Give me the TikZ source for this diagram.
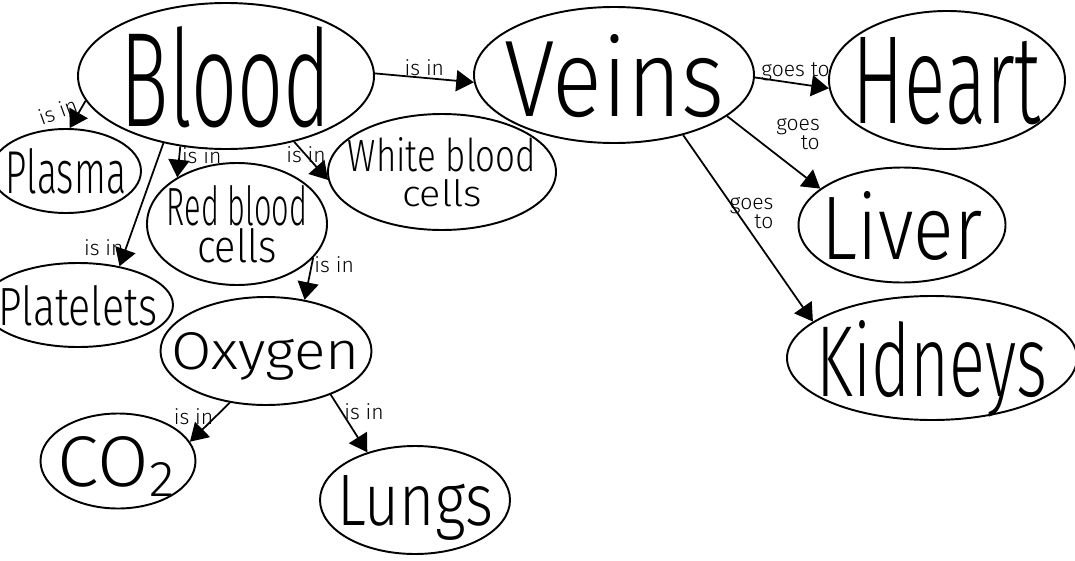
\documentclass[tikz,border=0pt]{standalone}
\usepackage{fontspec}
\IfFontExistsTF{Fira Sans Light}{\setmainfont{Fira Sans Light}}{\setmainfont{Fira Sans}}
\usepackage{graphicx}
\usepackage{tikz}
\usetikzlibrary{arrows.meta,shapes.geometric}

\newlength{\pxu}
\setlength{\pxu}{0.02cm}
\newcommand{\hand}[3]{\resizebox{#1\pxu}{#2\pxu}{#3}}

\begin{document}
\begin{tikzpicture}[
    x=0.02cm, y=-0.02cm,
    concept/.style={ellipse, draw=black, line width=1.1pt, inner xsep=-30\pxu, inner ysep=-10\pxu, text depth=0pt, align=center},
    link/.style={-{Triangle[length=10pt,width=12pt]}, line width=1pt},
    linklabel/.style={font=\fontsize{12}{11}\selectfont, inner sep=1pt, align=right}
]
\useasboundingbox (0,0) rectangle (1075,561);

% Concepts
\node[concept, minimum width=296\pxu, minimum height=146\pxu] (blood) at (226,76) {\hand{210}{100}{Blood}};
\node[concept, minimum width=280\pxu, minimum height=136\pxu] (veins) at (614,75) {\hand{220}{82}{Veins}};
\node[concept, minimum width=236\pxu, minimum height=138\pxu] (heart) at (947,80) {\hand{188}{86}{Heart}};
\node[concept, minimum width=207\pxu, minimum height=115\pxu] (liver) at (902,225) {\hand{160}{68}{Liver}};
\node[concept, minimum width=290\pxu, minimum height=124\pxu] (kidneys) at (932,358) {\hand{230}{76}{Kidneys}};
\node[concept, minimum width=150\pxu, minimum height=84\pxu] (plasma) at (66,171) {\hand{120}{45}{Plasma}};
\node[concept, minimum width=180\pxu, minimum height=122\pxu] (red) at (237,224) {\hand{140}{40}{Red blood}\\\hand{80}{34}{cells}};
\node[concept, minimum width=228\pxu, minimum height=116\pxu] (white) at (442,172) {\hand{188}{34}{White blood}\\[3pt]\hand{80}{27}{cells}};
\node[concept, minimum width=190\pxu, minimum height=84\pxu] (platelets) at (78,305) {\hand{159}{40}{Platelets}};
\node[concept, minimum width=211\pxu, minimum height=108\pxu] (oxygen) at (266,351) {\hand{188}{37}{Oxygen}};
\node[concept, minimum width=155\pxu, minimum height=95\pxu] (co2) at (118,461) {\hand{120}{50}{CO\textsubscript{2}}};
\node[concept, minimum width=190\pxu, minimum height=108\pxu] (lungs) at (415,500) {\hand{156}{50}{Lungs}};

% What blood carries
\draw[link] (blood.190) -- node[linklabel, pos=0.1, left=3pt, rotate=20] {is in} (plasma.85);
\draw[link] (blood.227) -- node[linklabel, pos=0.85, left] {is in} (platelets.43);
\draw[link] (blood.237) -- node[linklabel, pos=0.3, right] {is in} (red.142);
\draw[link] (blood.316) -- node[linklabel, pos=0.35] {is in} (white.184);
\draw[link] (red.336) -- node[linklabel, pos=0.15, right] {is in} (oxygen.53);
\draw[link] (oxygen.235) -- node[linklabel, pos=0.35, left] {is in} (co2.15);
\draw[link] (oxygen.326) -- node[linklabel, pos=0.3, right] {is in} (lungs.135);

% Where the veins go
\draw[link] (blood.1) -- node[linklabel, above] {is in} (veins.183);
\draw[link] (veins.359) -- node[linklabel, pos=0.55, above] {goes to} (heart.184);
\draw[link] (veins.340) -- node[linklabel, pos=0.5, above right] {goes\\to} (liver.156);
\draw[link] (veins.319) -- node[linklabel, pos=0.42, xshift=8pt] {goes\\to} (kidneys.163);

\end{tikzpicture}
\end{document}
